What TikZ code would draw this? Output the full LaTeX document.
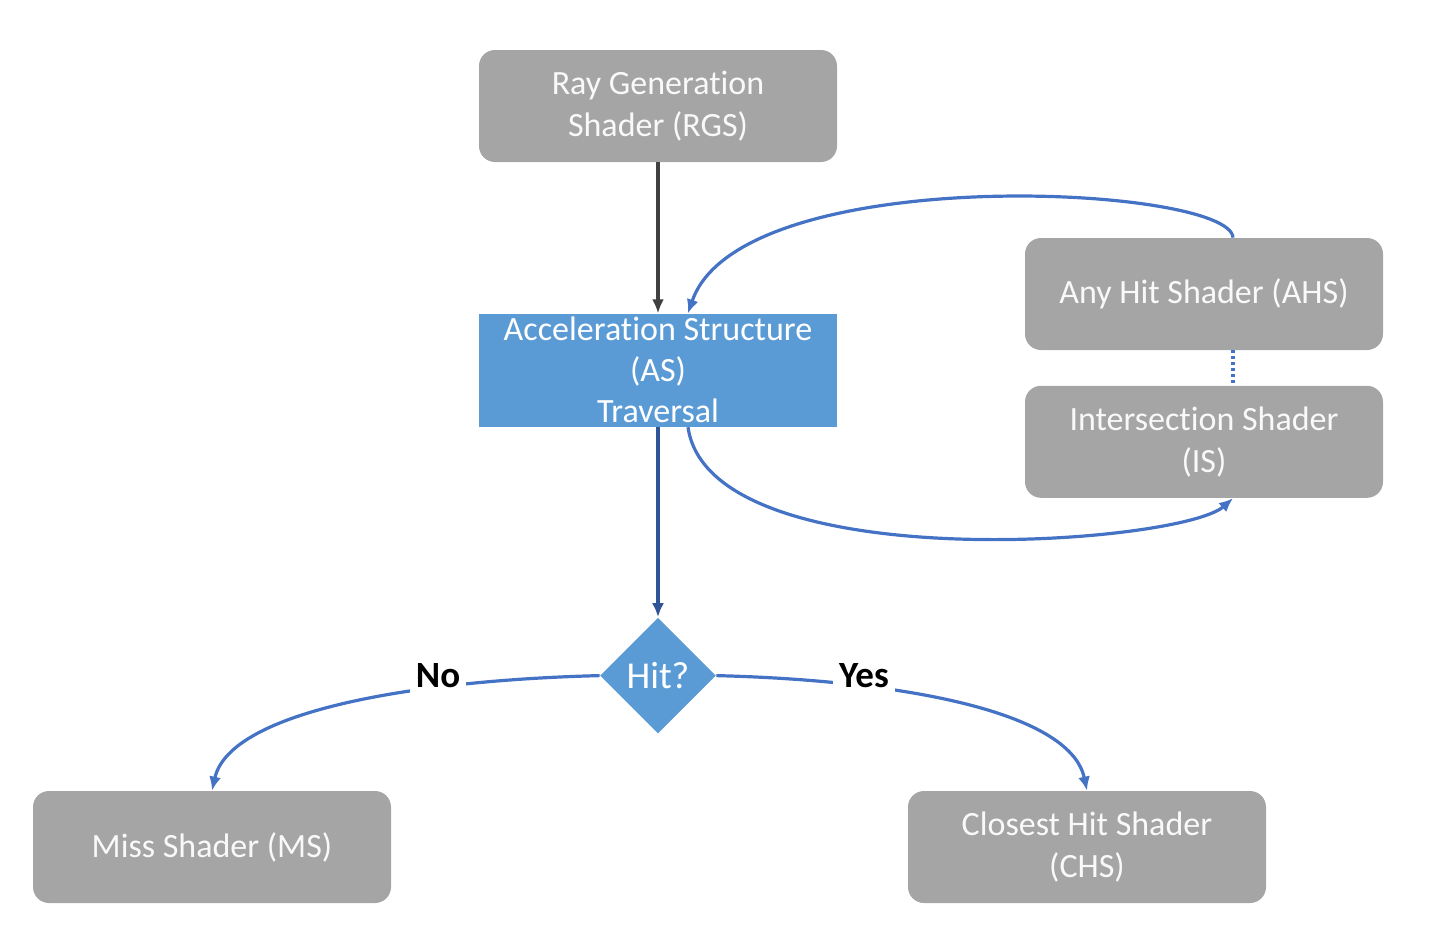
\documentclass[tikz,border=0pt]{standalone}
\usepackage{fontspec}
\setmainfont{Carlito}[RawFeature={-liga;-clig;-calt;-dlig}]
\usetikzlibrary{shapes,arrows.meta,positioning}

\definecolor{boxgray}{HTML}{A5A5A5}
\definecolor{asblue}{HTML}{5B9BD5}
\definecolor{lineblue}{HTML}{4472C4}
\definecolor{darkblue}{HTML}{2F5597}
\definecolor{linegray}{HTML}{404040}

\begin{document}
\begin{tikzpicture}[x=0.5pt, y=-0.5pt]
    \tikzset{
        shader/.style = {rectangle, fill=boxgray, text=white!95!gray, rounded corners=8pt, minimum width=179pt, minimum height=56pt, align=center, font=\fontsize{17}{21}\selectfont},
        accel/.style = {rectangle, fill=asblue, text=white, minimum width=179pt, minimum height=56.5pt, inner sep=0pt, align=center, font=\fontsize{17}{20.5}\selectfont},
        hit/.style = {diamond, fill=asblue, text=white, minimum width=58pt, minimum height=58pt, inner sep=0pt, font=\fontsize{19}{21}\selectfont},
        answer/.style = {fill=white, inner sep=3pt, font=\bfseries\fontsize{18.5}{21}\selectfont},
        line/.style = {draw=lineblue, line width=1.6pt, -{Latex[length=7pt, width=6pt]}},
        dotline/.style = {draw=lineblue, line width=1.6pt, dash pattern=on 1.5pt off 1.5pt},
    }
    \useasboundingbox (0,0) rectangle (1432,950);

    \node[shader](rgs) at (658,106){Ray Generation\\Shader (RGS)};

    \node[accel](as)[below = 75.5pt of rgs]{Acceleration Structure\\(AS)\\Traversal};

    \node[hit](hit)[below = 95pt of as]{Hit?};

    \node[shader](ahs) at (1204,294){Any Hit Shader (AHS)};

    \node[shader](is)[below = 17.5pt of ahs]{Intersection Shader\\(IS)};

    \node[shader](ms) at (212,847){Miss Shader (MS)};

    \node[shader](chs) at (1087,847){Closest Hit Shader\\(CHS)};

    \path [line, draw=linegray, line width=2pt] (rgs) -- (as);
    \path [line, draw=darkblue] (as) -- (hit);
    \path [line] ([xshift=14.5pt]ahs.north) .. controls (1230,185) and (740,160) .. ([xshift=15pt]as.north);
    \path [line] ([xshift=15pt]as.south) .. controls (710,580) and (1180,545) .. ([xshift=14.5pt]is.south);
    \path [dotline] ([xshift=14.5pt]ahs.south) -- ([xshift=14.5pt]is.north);
    \path [line] (hit.west) .. controls (420,680) and (230,710) .. (ms.north);
    \path [line] (hit.east) .. controls (895,680) and (1070,710) .. (chs.north);

    \node[answer](no) at (438,676){No};
    \node[answer](yes) at (864,676){Yes};

\end{tikzpicture}
\end{document}
